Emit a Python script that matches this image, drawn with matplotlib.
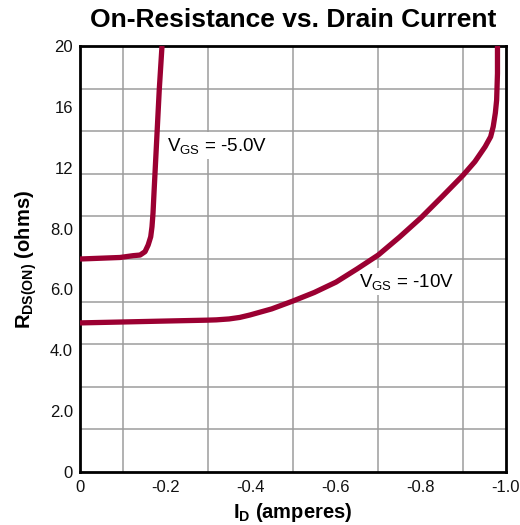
import numpy as np
import matplotlib
matplotlib.use("Agg")
import matplotlib.pyplot as plt
from matplotlib.ticker import FixedLocator, FixedFormatter

plt.rcParams["font.family"] = ["Liberation Sans", "DejaVu Sans"]
plt.rcParams["mathtext.fontset"] = "custom"
plt.rcParams["mathtext.rm"] = "Liberation Sans"
plt.rcParams["mathtext.bf"] = "Liberation Sans:bold"
plt.rcParams["mathtext.it"] = "Liberation Sans:italic"

# Drain current (A) and on-resistance (ohms) for each gate voltage
id_vgs5 = [0.0, -0.094, -0.125, -0.141, -0.1526, -0.160, -0.166, -0.169,
           -0.1714, -0.174, -0.180, -0.186, -0.1925]
r_vgs5 = [7.0, 7.05, 7.11, 7.13, 7.24, 7.46, 7.73, 8.12,
          9.02, 10.5, 13.8, 17.1, 20.0]

id_vgs10 = [0.0, -0.10, -0.197, -0.298, -0.32, -0.35, -0.375, -0.399, -0.45,
            -0.50, -0.55, -0.601, -0.65, -0.70, -0.75, -0.80, -0.85,
            -0.899, -0.927, -0.951, -0.964, -0.970, -0.975, -0.978,
            -0.980, -0.980]
r_vgs10 = [4.90, 4.93, 4.96, 4.99, 5.0, 5.03, 5.08, 5.16, 5.36,
           5.62, 5.90, 6.24, 6.67, 7.13, 7.72, 8.70, 10.1,
           11.5, 12.4, 13.38, 14.04, 14.7, 15.6, 16.44,
           18.2, 20.0]

x_ticks = [0, -0.2, -0.4, -0.6, -0.8, -1.0]
x_tick_labels = ["0", "-0.2", "-0.4", "-0.6", "-0.8", "-1.0"]
y_ticks = [0, 2, 4, 6, 8, 12, 16, 20]
y_tick_labels = ["0", "2.0", "4.0", "6.0", "8.0", "12", "16", "20"]

LINE_COLOR = "#9b0032"


# Resistance axis: 2 ohms per division up to 8, then 4 ohms per division
def fwd(r):
    r = np.asarray(r, dtype=float)
    return np.where(r <= 8, r / 2.0, 4.0 + (r - 8.0) / 4.0)


def inv(u):
    u = np.asarray(u, dtype=float)
    return np.where(u <= 4, u * 2.0, 8.0 + (u - 4.0) * 4.0)


fig = plt.figure(figsize=(5.2, 5.25), dpi=100)
ax = fig.add_axes([80 / 520, 1 - 472 / 525, 426 / 520, 426 / 525])
ax.set_yscale("function", functions=(fwd, inv))
ax.set_ylim(0, 20)
ax.set_xlim(0, -1.0)

# Grid: 10 equal divisions on both axes
ax.xaxis.set_minor_locator(FixedLocator([-0.1 * k for k in range(11)]))
ax.yaxis.set_minor_locator(FixedLocator(list(inv(np.arange(11) * 0.7))))
ax.grid(True, which="minor", color="#9c9c9c", linewidth=1.1)
ax.grid(False, which="major")
ax.set_axisbelow(True)

ax.xaxis.set_major_locator(FixedLocator(x_ticks))
ax.xaxis.set_major_formatter(FixedFormatter(x_tick_labels))
ax.yaxis.set_major_locator(FixedLocator(y_ticks))
ax.yaxis.set_major_formatter(FixedFormatter(y_tick_labels))
ax.tick_params(which="both", length=0, labelsize=12, colors="#111111")
ax.tick_params(axis="x", pad=6)
ax.tick_params(axis="y", pad=5)

for s in ax.spines.values():
    s.set_linewidth(2.0)
    s.set_color("black")

ax.plot(id_vgs5, r_vgs5, color=LINE_COLOR, linewidth=3.8,
        solid_capstyle="butt", solid_joinstyle="round", zorder=5)
ax.plot(id_vgs10, r_vgs10, color=LINE_COLOR, linewidth=3.8,
        solid_capstyle="butt", solid_joinstyle="round", zorder=5)

box = dict(facecolor="white", edgecolor="none", pad=2.5)
ax.text(-0.205, 13.45, r"V$_{\mathrm{GS}}$ = -5.0V", fontsize=13.5,
        va="center", ha="left", bbox=box, zorder=4)
ax.text(-0.655, 6.25, r"V$_{\mathrm{GS}}$ = -10V", fontsize=13.5,
        va="center", ha="left", bbox=box, zorder=4)

fig.text(293 / 520, 1 - 20 / 525, "On-Resistance vs. Drain Current",
         ha="center", va="center", fontsize=19, fontweight="bold")
ax.set_xlabel(r"I$_{\mathbf{D}}$ (amperes)", fontsize=14.5, fontweight="bold",
              labelpad=4)
ax.set_ylabel(r"R$_{\mathbf{DS(ON)}}$ (ohms)", fontsize=14.5, fontweight="bold",
              labelpad=8)

fig.savefig("out.png", dpi=100, facecolor="white")
